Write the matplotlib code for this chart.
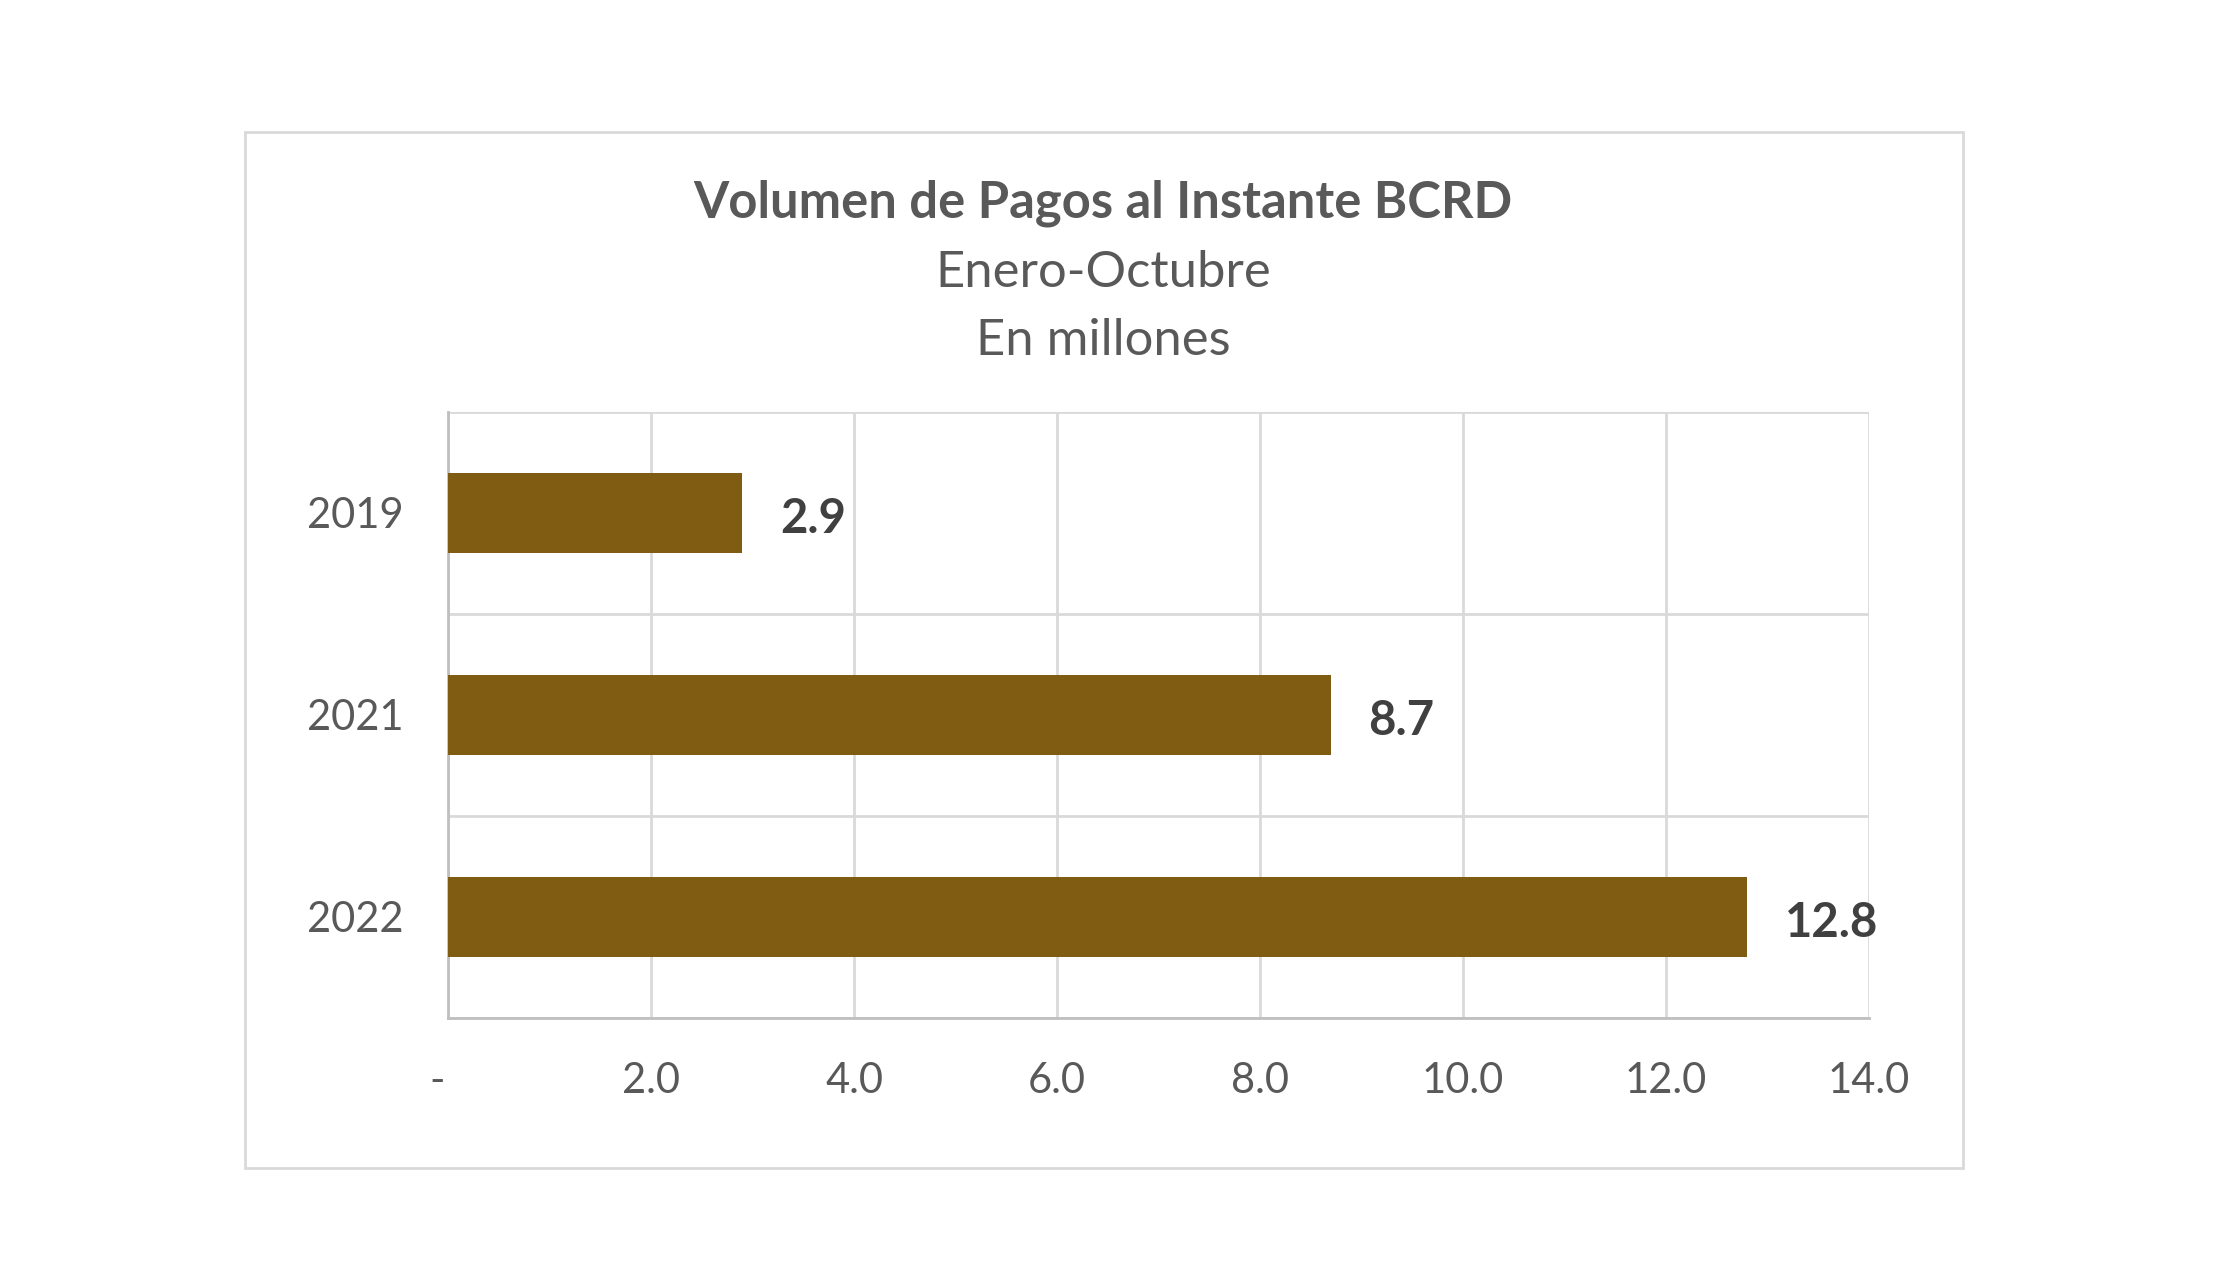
import matplotlib.pyplot as plt
import matplotlib.transforms as mtransforms
from matplotlib.patches import Rectangle
from matplotlib.ticker import FixedLocator

# datos del grafico
years = ['2019', '2021', '2022']
volumen = [2.9, 8.7, 12.8]
xticks = [0, 2, 4, 6, 8, 10, 12, 14]
xlabels = ['-', '2.0', '4.0', '6.0', '8.0', '10.0', '12.0', '14.0']

plt.rcParams['font.family'] = ['Lato', 'DejaVu Sans']

W, H = 2230, 1270
fig = plt.figure(figsize=(W / 100, H / 100), dpi=100)
fig.patch.set_facecolor('white')

# marco exterior
fig.patches.append(Rectangle((245 / W, 1 - 1168 / H), (1963 - 245) / W, (1168 - 132) / H,
                             transform=fig.transFigure, fill=False,
                             edgecolor='#D9D9D9', linewidth=2))

ax = fig.add_axes([448 / W, 1 - 1018 / H, (1869 - 448) / W, (1018 - 412) / H])

pos = list(range(len(years)))
ax.barh(pos, volumen, height=0.4, color='#7F5C12', zorder=3)
ax.set_ylim(len(years) - 0.5, -0.5)
ax.set_xlim(0, 14)

ax.set_xticks(xticks)
ax.set_xticklabels(xlabels)
ax.set_yticks(pos)
ax.set_yticklabels(years)
ax.yaxis.set_minor_locator(FixedLocator([-0.5, 0.5, 1.5, 2.5]))

ax.grid(axis='x', color='#D9D9D9', linewidth=2, zorder=0)
ax.grid(axis='y', which='minor', color='#D9D9D9', linewidth=2, zorder=0)
ax.tick_params(axis='both', which='both', length=0)
ax.tick_params(axis='x', pad=32, labelsize=30, labelcolor='#595959')
ax.tick_params(axis='y', pad=32, labelsize=30, labelcolor='#595959')

# el guion del cero queda un poco a la izquierda (formato contable)
lbl0 = ax.get_xticklabels()[0]
lbl0.set_transform(lbl0.get_transform() + mtransforms.ScaledTranslation(-0.11, 0, fig.dpi_scale_trans))

for s in ['top', 'right']:
    ax.spines[s].set_visible(False)
for s in ['left', 'bottom']:
    ax.spines[s].set_color('#BFBFBF')
    ax.spines[s].set_linewidth(2)

for p, v in zip(pos, volumen):
    ax.text(v + 0.37, p + 0.03, f'{v:.1f}', va='center', ha='left', fontsize=34,
            fontweight='bold', color='#404040')

fig.text(1103 / W, 1 - 203 / H, 'Volumen de Pagos al Instante BCRD', ha='center', va='center',
         fontsize=36.5, fontweight='bold', color='#595959')
fig.text(1103 / W, 1 - 273 / H, 'Enero-Octubre', ha='center', va='center',
         fontsize=36.5, color='#595959')
fig.text(1103 / W, 1 - 341 / H, 'En millones', ha='center', va='center',
         fontsize=36.5, color='#595959')

fig.savefig('out.png', dpi=100, facecolor='white')
